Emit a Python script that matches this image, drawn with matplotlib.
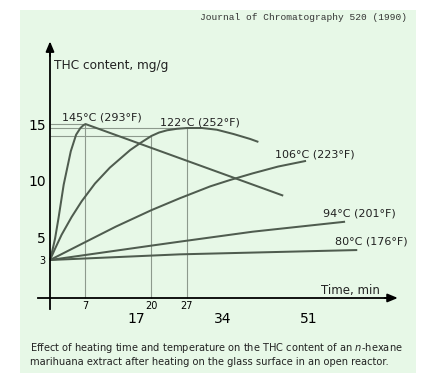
import numpy as np
import matplotlib
matplotlib.use('Agg')
import matplotlib.pyplot as plt
from matplotlib.patches import Rectangle

# THC content (mg/g) vs heating time (min)
t_145 = [0, 0.5, 1, 1.68, 2.7, 4.1, 5.15, 6, 6.6, 7, 46]
c_145 = [3, 3.9, 4.9, 6.7, 9.65, 12.6, 14.06, 14.65, 14.9, 15.0, 8.68]

t_122 = [0, 1, 2.29, 4.27, 6.24, 8.87, 11.8, 15.8, 17.9, 20, 21.5, 23.1, 25, 27, 30, 32.9,
         36.2, 39.5, 41.1]
c_122 = [3, 4.0, 5.23, 6.8, 8.18, 9.75, 11.15, 12.7, 13.35, 13.95, 14.25, 14.45, 14.58, 14.65,
         14.65, 14.5, 14.12, 13.68, 13.42]

t_106 = [0, 6.6, 13, 20, 25.6, 31.6, 35.5, 40, 45, 50.5]
c_106 = [3, 4.5, 5.95, 7.4, 8.45, 9.5, 10.06, 10.65, 11.25, 11.75]

t_94 = [0, 20, 25.6, 40, 58.2]
c_94 = [3, 4.27, 4.62, 5.5, 6.38]

t_80 = [0, 25.6, 60.6]
c_80 = [3, 3.5, 3.88]

series_labels = ['145°C (293°F)', '122°C (252°F)', '106°C (223°F)', '94°C (201°F)', '80°C (176°F)']

# marked points (time, content) with guide lines
guide_t = [7, 20, 27]
guide_c = [15.0, 13.95, 14.65]

y_ticks = [3, 5, 10, 15]
x_ticks_small = [7, 20, 27]
x_ticks_big = [17, 34, 51]

caption = ('Effect of heating time and temperature on the THC content of an $n$-hexane\n'
           'marihuana extract after heating on the glass surface in an open reactor.')

W, H = 436, 382
fig = plt.figure(figsize=(W / 100, H / 100), dpi=100)
fig.patch.set_facecolor('white')

ax = fig.add_axes([0, 0, 1, 1])
ax.patch.set_alpha(0)
ax.set_xlim(-50 / 5.07, (W - 50) / 5.07)
ax.set_ylim((294 - H) / 11.33, 294 / 11.33)

# light green panel behind everything
ax.add_patch(Rectangle((20 / W, 1 - 373 / H), 396 / W, 363 / H,
                       transform=fig.transFigure, facecolor='#e7f8e7',
                       edgecolor='none', zorder=0))

line_col = '#4f5c4f'
guide_col = '#8d9a8d'
lw = 1.45

for t, c in [(t_145, c_145), (t_122, c_122), (t_106, c_106), (t_94, c_94), (t_80, c_80)]:
    ax.plot(t, c, color=line_col, lw=lw, solid_capstyle='butt',
            solid_joinstyle='round', zorder=3)

x_base = -0.35
ax.vlines(guide_t, x_base, guide_c, color=guide_col, lw=0.8, zorder=2)
ax.hlines(guide_c, 0, guide_t, color=guide_col, lw=0.8, zorder=2)

# axes
for s in ['top', 'right']:
    ax.spines[s].set_visible(False)
ax.spines['left'].set_position(('data', 0))
ax.spines['left'].set_bounds(-1.3, 21.5)
ax.spines['bottom'].set_position(('data', x_base))
ax.spines['bottom'].set_bounds(-2.4, 67)
for s in ['left', 'bottom']:
    ax.spines[s].set_linewidth(1.3)
    ax.spines[s].set_color('black')
    ax.spines[s].set_zorder(4)
ax.annotate('', xy=(0, 22.3), xytext=(0, 21), zorder=5,
            arrowprops=dict(arrowstyle='-|>,head_length=0.6,head_width=0.25',
                            color='black', lw=1.3, shrinkA=0, shrinkB=0))
ax.annotate('', xy=(68.6, x_base), xytext=(66, x_base), zorder=5,
            arrowprops=dict(arrowstyle='-|>,head_length=0.6,head_width=0.25',
                            color='black', lw=1.3, shrinkA=0, shrinkB=0))

ax.set_yticks(y_ticks)
ax.set_yticklabels([str(v) for v in y_ticks])
for lab, v in zip(ax.get_yticklabels(), y_ticks):
    lab.set_fontsize(7 if v == 3 else 10)
ax.tick_params(axis='y', length=0, pad=3)

ax.set_xticks(x_ticks_small)
ax.set_xticklabels([str(v) for v in x_ticks_small], fontsize=7)
ax.set_xticks(x_ticks_big, minor=True)
ax.set_xticklabels([str(v) for v in x_ticks_big], minor=True, fontsize=10)
ax.tick_params(axis='x', which='major', length=0, pad=2.5)
ax.tick_params(axis='x', which='minor', length=0, pad=10)

# curve labels
label_pos = [(2.3, 15.6), (21.7, 15.18), (44.4, 12.27), (53.9, 7.1), (56.2, 4.59)]
for (x, y), s in zip(label_pos, series_labels):
    ax.text(x, y, s, fontsize=8, ha='left', va='center', color='#222222')

ax.text(0.8, 20.2, 'THC content, mg/g', fontsize=8.7, ha='left', va='center', color='#222222')
ax.text(53.4, 0.3, 'Time, min', fontsize=8.5, ha='left', va='center', color='#222222')

fig.text(407 / W, 1 - 18 / H, 'Journal of Chromatography 520 (1990)',
         family='Liberation Mono', fontsize=6.8, ha='right', va='center', color='#333333')
fig.text(30 / W, 1 - 341 / H, caption, fontsize=7.1, ha='left', va='top',
         linespacing=1.3, color='#222222')

fig.savefig('out.png', dpi=100)
